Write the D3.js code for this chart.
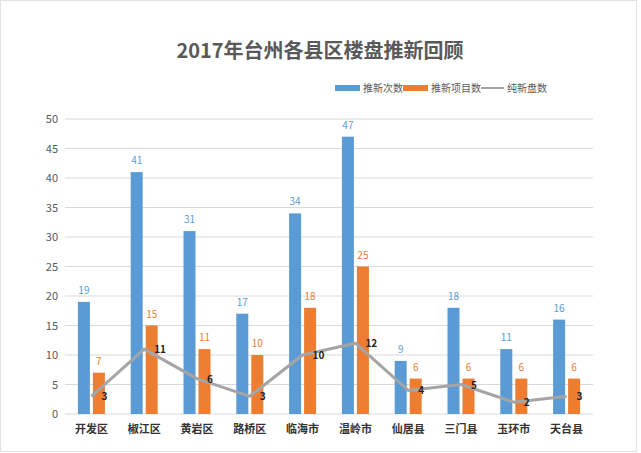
<!DOCTYPE html>
<html><head><meta charset="utf-8">
<script src="https://cdn.jsdelivr.net/npm/d3@7"></script>
<style>body{margin:0;background:#fff;font-family:"Microsoft YaHei","Noto Sans CJK SC",sans-serif;}</style>
</head><body><svg id="c" width="641" height="453"></svg>
<script>
const categories = ["开发区","椒江区","黄岩区","路桥区","临海市","温岭市","仙居县","三门县","玉环市","天台县"];
const pushCount = [19,41,31,17,34,47,9,18,11,16];
const projectCount = [7,15,11,10,18,25,6,6,6,6];
const newCount = [3,11,6,3,10,12,4,5,2,3];
const yTicks = [0,5,10,15,20,25,30,35,40,45,50];
const seriesNames = ["推新次数","推新项目数","纯新盘数"];
const colors = ["#5b9bd5","#ed7d31","#a5a5a5"];

const svg = d3.select("#c");
const font = '"Noto Sans CJK SC", sans-serif';
svg.append("rect").attr("x",0.5).attr("y",0.5).attr("width",636).attr("height",451)
  .attr("fill","#fff").attr("stroke","#e3e3e3");

const m = {l:65, r:593, t:119, b:414};
const x = d3.scaleBand().domain(categories).range([m.l,m.r]);
const y = d3.scaleLinear().domain([0,50]).range([m.b,m.t]);

svg.append("g").selectAll("line").data(yTicks).join("line")
  .attr("x1",m.l).attr("x2",m.r).attr("y1",d=>y(d)).attr("y2",d=>y(d))
  .attr("stroke","#d9d9d9").attr("stroke-width",1);

svg.append("g").selectAll("text").data(yTicks).join("text")
  .attr("x",58).attr("y",d=>y(d)+4).attr("text-anchor","end")
  .attr("font-family",font).attr("font-size",11).attr("fill","#595959").text(d=>d);

const bw = 12, gap = 3;
const cx = c => x(c) + x.bandwidth()/2;

svg.append("g").selectAll("rect").data(categories).join("rect")
  .attr("x",c=>cx(c)-gap/2-bw).attr("width",bw)
  .attr("y",(c,i)=>y(pushCount[i])).attr("height",(c,i)=>y(0)-y(pushCount[i]))
  .attr("fill",colors[0]);
svg.append("g").selectAll("rect").data(categories).join("rect")
  .attr("x",c=>cx(c)+gap/2).attr("width",bw)
  .attr("y",(c,i)=>y(projectCount[i])).attr("height",(c,i)=>y(0)-y(projectCount[i]))
  .attr("fill",colors[1]);

svg.append("g").selectAll("text").data(categories).join("text")
  .attr("x",c=>cx(c)-gap/2-bw/2).attr("y",(c,i)=>y(pushCount[i])-8)
  .attr("text-anchor","middle").attr("font-family",font).attr("font-size",10)
  .attr("fill",colors[0]).text((c,i)=>pushCount[i]);
svg.append("g").selectAll("text").data(categories).join("text")
  .attr("x",c=>cx(c)+gap/2+bw/2).attr("y",(c,i)=>y(projectCount[i])-8)
  .attr("text-anchor","middle").attr("font-family",font).attr("font-size",10)
  .attr("fill",colors[1]).text((c,i)=>projectCount[i]);

const line = d3.line().x((d,i)=>cx(categories[i])).y(d=>y(d));
svg.append("path").datum(newCount).attr("d",line).attr("fill","none")
  .attr("stroke",colors[2]).attr("stroke-width",3).attr("stroke-linejoin","round");
svg.append("g").selectAll("text").data(newCount).join("text")
  .attr("x",(d,i)=>cx(categories[i])+10).attr("y",d=>y(d)+4)
  .attr("font-family",font).attr("font-size",10).attr("font-weight","bold")
  .attr("fill","#222").text(d=>d);

svg.append("g").selectAll("text").data(categories).join("text")
  .attr("x",c=>cx(c)).attr("y",433).attr("text-anchor","middle")
  .attr("font-family",font).attr("font-size",11).attr("font-weight","bold")
  .attr("fill","#333").text(c=>c);

svg.append("text").attr("x",320).attr("y",58).attr("text-anchor","middle")
  .attr("font-family",font).attr("font-size",20).attr("font-weight","bold")
  .attr("fill","#595959").text("2017年台州各县区楼盘推新回顾");

const lg = svg.append("g").attr("font-family",font).attr("font-size",10).attr("fill","#595959");
lg.append("rect").attr("x",335).attr("y",85).attr("width",25).attr("height",6).attr("fill",colors[0]);
lg.append("text").attr("x",363).attr("y",92).text(seriesNames[0]);
lg.append("rect").attr("x",403).attr("y",85).attr("width",25).attr("height",6).attr("fill",colors[1]);
lg.append("text").attr("x",431).attr("y",92).text(seriesNames[1]);
lg.append("line").attr("x1",481).attr("x2",504).attr("y1",88).attr("y2",88).attr("stroke",colors[2]).attr("stroke-width",2);
lg.append("text").attr("x",507).attr("y",92).text(seriesNames[2]);
</script></body></html>
